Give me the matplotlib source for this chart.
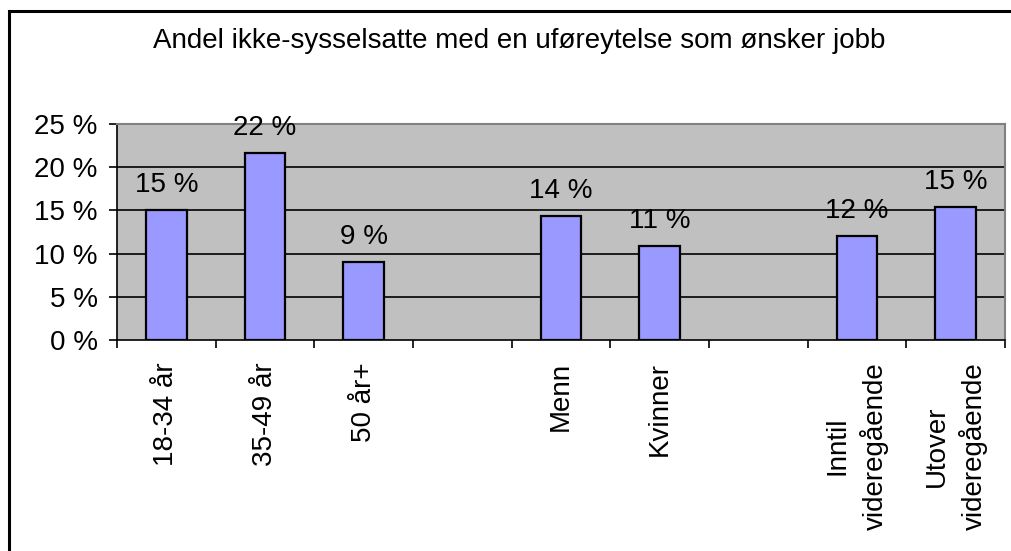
import matplotlib
matplotlib.use('Agg')
import matplotlib.pyplot as plt
from matplotlib.patches import Rectangle
import numpy as np

plt.rcParams['font.family'] = ['Liberation Sans', 'DejaVu Sans']

# data
categories = ['18-34 år', '35-49 år', '50 år+', '', 'Menn', 'Kvinner', '',
              'Inntil\nvideregående', 'Utover\nvideregående']
values = [15.0, 21.6, 9.0, None, 14.35, 10.9, None, 12.0, 15.4]
yticks = [0, 5, 10, 15, 20, 25]
title = 'Andel ikke-sysselsatte med en uføreytelse som ønsker jobb'

FS = 20
W, H = 1012, 551
fig = plt.figure(figsize=(W/100, H/100), dpi=100)
ax = fig.add_axes([117/W, 1 - 340/H, (1005 - 117)/W, (340 - 124)/H])
ax.set_facecolor('#C0C0C0')

x = np.arange(len(categories))
for i, v in enumerate(values):
    if v is None:
        continue
    ax.bar(x[i], v, width=0.41, color='#9999FF', edgecolor='black',
           linewidth=1.6, zorder=3)
    ax.annotate(f"{v:.0f} %", (x[i], v), xytext=(0, 13),
                textcoords='offset points', ha='center', va='baseline',
                fontsize=FS)

ax.set_xlim(-0.5, len(categories) - 0.5)
ax.set_ylim(0, 25)

# y axis
ax.set_yticks(yticks)
ax.set_yticklabels([f"{t} %" for t in yticks], fontsize=FS)
ax.tick_params(axis='y', direction='out', length=6, width=1.2, pad=8)
for t in yticks[1:-1]:
    ax.axhline(t, color='black', linewidth=1.2, zorder=1)

# x axis: ticks on category boundaries, labels on centers
ax.set_xticks(np.arange(-0.5, len(categories)), minor=False)
ax.set_xticklabels([])
ax.tick_params(axis='x', which='major', direction='out', length=6, width=1.2)
ax.set_xticks(x, minor=True)
ax.set_xticklabels(categories, minor=True, rotation=90, fontsize=FS,
                   va='top', ha='center', multialignment='center',
                   linespacing=1.4)
ax.tick_params(axis='x', which='minor', length=0, pad=16)

ax.spines['left'].set_color('black')
ax.spines['bottom'].set_color('black')
ax.spines['left'].set_linewidth(1.2)
ax.spines['bottom'].set_linewidth(1.2)
ax.spines['top'].set_color('#808080')
ax.spines['right'].set_color('#808080')
ax.spines['top'].set_linewidth(1.5)
ax.spines['right'].set_linewidth(1.5)

fig.text(519/W, 1 - 41/H, title, ha='center', va='center', fontsize=FS)

# outer chart frame, running off the right and bottom edges
fig.patches.append(Rectangle((9/W, -0.1), 1.2, 1 - 10.5/H + 0.1,
                             transform=fig.transFigure, fill=False,
                             edgecolor='black', linewidth=2.2))

fig.savefig('out.png', dpi=100)
